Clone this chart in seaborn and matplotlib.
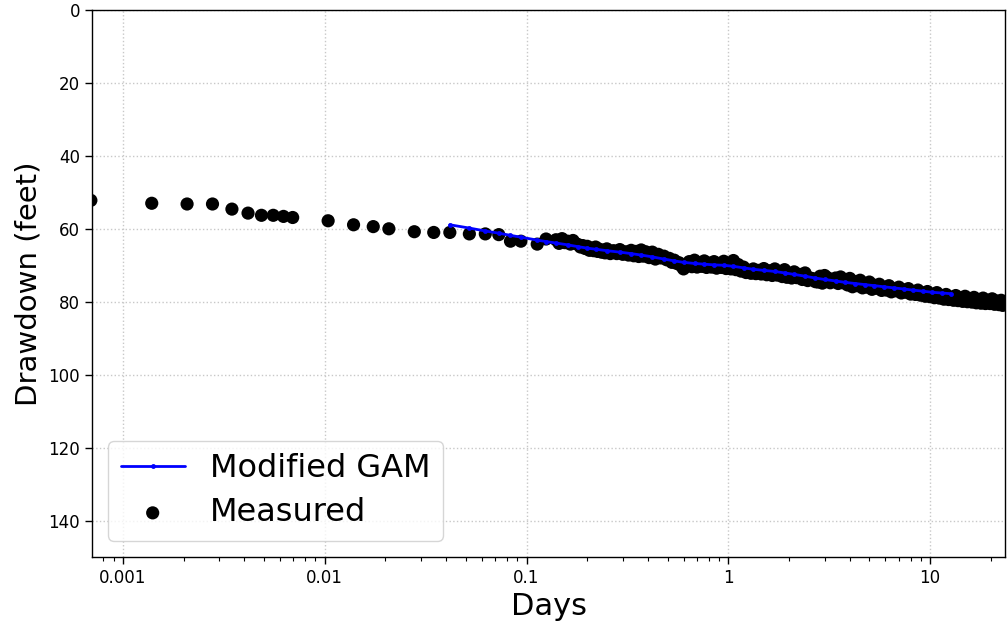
import matplotlib
matplotlib.use("Agg")
import matplotlib.pyplot as plt
import seaborn as sns
import pandas as pd
from matplotlib.ticker import FuncFormatter, LogLocator, NullFormatter

# ---- Data ----
measured_days = [
    0.000694, 0.00139, 0.00208, 0.00278, 0.00347, 0.00417, 0.00486, 0.00556, 0.00625, 0.00694,
    0.0104, 0.0139, 0.0174, 0.0208, 0.0278, 0.0347, 0.0417, 0.0521, 0.0625, 0.0729,
    0.0833, 0.0938, 0.113, 0.125,
    0.14, 0.15, 0.16, 0.17, 0.18, 0.19, 0.20, 0.21, 0.22, 0.23, 0.24, 0.25, 0.27, 0.29,
    0.31, 0.33, 0.35, 0.37, 0.39, 0.42, 0.45, 0.48, 0.51, 0.54, 0.57, 0.60, 0.64, 0.68,
    0.72, 0.76, 0.80, 0.85, 0.90, 0.95, 1.0, 1.06, 1.12, 1.19, 1.26, 1.33, 1.41, 1.5,
    1.6, 1.7, 1.8, 1.9, 2.0, 2.12, 2.25, 2.4, 2.55, 2.7, 2.85, 3.0, 3.2, 3.4, 3.6, 3.8,
    4.0, 4.25, 4.5, 4.75, 5.0, 5.3, 5.6, 5.9, 6.25, 6.6, 7.0, 7.4, 7.8, 8.2, 8.7, 9.2,
    9.7, 10.2, 10.8, 11.4, 12.0, 12.7, 13.4, 14.1, 14.9, 15.7, 16.5, 17.4, 18.3, 19.3,
    20.3, 21.4, 22.5, 23.2,
    0.145, 0.155, 0.165, 0.175, 0.185, 0.195, 0.205, 0.215, 0.225, 0.235, 0.245, 0.26,
    0.28, 0.30, 0.32, 0.34, 0.36, 0.38, 0.405, 0.435, 0.465, 0.495, 0.525, 0.555, 0.585,
    0.62, 0.66, 0.70, 0.74, 0.78, 0.825, 0.875, 0.925, 0.975, 1.03, 1.09, 1.155, 1.225,
    1.295, 1.37, 1.455, 1.55, 1.65, 1.75, 1.85, 1.95, 2.06, 2.185, 2.325, 2.475, 2.625,
    2.775, 2.925, 3.1, 3.3, 3.5, 3.7, 3.9, 4.125, 4.375, 4.625, 4.875, 5.15, 5.45, 5.75,
    6.075, 6.425, 6.8, 7.2, 7.6, 8.0, 8.45, 8.95, 9.45, 9.95, 10.5, 11.1, 11.7, 12.35,
    13.05, 13.75, 14.5, 15.3, 16.1, 16.95, 17.85, 18.8, 19.8, 20.85, 21.95, 22.9,
]
measured_drawdown = [
    52.2, 53.0, 53.2, 53.2, 54.6, 55.7, 56.3, 56.3, 56.6, 56.9,
    57.8, 58.9, 59.4, 60.0, 60.8, 61.0, 61.0, 61.4, 61.4, 61.6,
    63.4, 63.4, 64.2, 62.8,
    63.0, 62.7, 63.4, 63.2, 64.3, 64.6, 64.8, 65.3, 65.0, 65.6, 65.9, 65.5, 66.0, 65.7,
    66.3, 65.9, 66.2, 65.8, 66.3, 66.4, 67.0, 67.5, 68.1, 68.6, 69.3, 71.0, 69.0, 68.6,
    69.3, 68.8, 69.4, 69.0, 69.5, 68.9, 69.6, 68.7, 69.8, 70.5, 71.5, 71.0, 71.4, 70.9,
    71.5, 71.0, 71.8, 71.2, 72.3, 71.8, 72.5, 72.1, 73.5, 74.5, 73.0, 72.8, 74.8, 73.5,
    73.2, 73.9, 73.6, 74.5, 74.1, 75.0, 74.6, 75.5, 75.2, 76.2, 75.6, 76.5, 76.0, 76.8,
    76.4, 77.2, 76.8, 77.6, 77.2, 78.1, 77.5, 78.5, 78.0, 78.8, 78.3, 79.0, 78.5, 79.2,
    78.8, 79.4, 79.0, 79.6, 79.2, 79.8, 79.6, 80.3,
    64.0, 63.8, 64.2, 64.0, 65.0, 65.4, 65.9, 66.0, 66.2, 66.4, 66.6, 66.8,
    66.8, 67.0, 67.2, 67.4, 67.6, 67.5, 67.9, 68.3, 68.0, 68.5, 69.2, 69.5, 70.2,
    70.3, 70.4, 70.5, 70.3, 70.6, 70.5, 70.8, 70.6, 70.9, 71.0, 71.2, 71.6, 72.0,
    72.2, 72.3, 72.4, 72.6, 72.8, 72.7, 73.1, 73.3, 73.5, 73.4, 73.9, 74.2, 73.7,
    74.6, 74.9, 73.4, 74.1, 75.0, 74.8, 75.4, 75.9, 75.6, 76.2, 76.0, 76.6, 76.3, 76.9,
    76.8, 77.3, 77.0, 77.6, 77.4, 77.9, 78.0, 78.2, 78.5, 78.6, 78.9, 79.0, 79.3, 79.4,
    79.6, 79.7, 79.9, 80.0, 80.1, 80.3, 80.4, 80.5, 80.5, 80.7, 80.8, 81.0,
]

gam_days = [
    0.0417, 0.0521, 0.0625, 0.0729, 0.0833, 0.0938, 0.113, 0.125, 0.14, 0.16, 0.18, 0.20,
    0.22, 0.25, 0.29, 0.33, 0.37, 0.42, 0.48, 0.54, 0.60, 0.68, 0.76, 0.85, 0.95, 1.06,
    1.19, 1.33, 1.5, 1.7, 1.9, 2.12, 2.4, 2.7, 3.0, 3.4, 3.8, 4.25, 4.75, 5.3, 5.9, 6.6,
    7.4, 8.2, 9.2, 10.2, 11.4, 12.7,
]
gam_drawdown = [
    58.9, 59.8, 60.6, 61.2, 61.8, 62.3, 63.1, 63.5, 63.9, 64.4, 64.9, 65.3,
    65.6, 66.0, 66.4, 66.8, 67.2, 67.7, 68.3, 68.8, 69.2, 69.5, 69.7, 69.9, 70.0, 70.3,
    70.7, 71.1, 71.4, 71.7, 72.1, 72.5, 73.0, 73.5, 73.9, 74.3, 74.7, 75.0, 75.3, 75.6,
    75.9, 76.2, 76.5, 76.8, 77.1, 77.4, 77.6, 77.8,
]

y_ticks = [0, 20, 40, 60, 80, 100, 120, 140]
x_ticks = [0.001, 0.01, 0.1, 1, 10]

meas_df = pd.DataFrame({"Days": measured_days, "Drawdown": measured_drawdown})
gam_df = pd.DataFrame({"Days": gam_days, "Drawdown": gam_drawdown})

sns.set_theme(style="white")
plt.rcParams["font.family"] = ["DejaVu Sans"]
plt.rcParams["text.color"] = "black"
plt.rcParams["axes.labelcolor"] = "black"
plt.rcParams["xtick.color"] = "black"
plt.rcParams["ytick.color"] = "black"

fig = plt.figure(figsize=(10.08, 6.28), dpi=100)
ax = fig.add_axes([92 / 1008, 1 - 557 / 628, (1005 - 92) / 1008, (557 - 10) / 628])

sns.lineplot(data=gam_df, x="Days", y="Drawdown", ax=ax, color="#0000ff",
             marker=".", markersize=7, markeredgewidth=0, linewidth=2.0,
             label="Modified GAM", zorder=3, sort=False)
sns.scatterplot(data=meas_df, x="Days", y="Drawdown", ax=ax, color="black",
                s=90, edgecolor="none", label="Measured", zorder=2)

ax.set_xscale("log")
ax.set_xlim(0.000703, 23.5)
ax.set_ylim(150, 0)
ax.set_yticks(y_ticks)
ax.set_xticks(x_ticks)
ax.xaxis.set_major_formatter(FuncFormatter(lambda v, p: "{:g}".format(v)))
ax.xaxis.set_minor_locator(LogLocator(base=10, subs=range(2, 10), numticks=20))
ax.xaxis.set_minor_formatter(NullFormatter())

ax.grid(True, which="major", linestyle=":", color="#c8c8c8", linewidth=1.0)
for sp in ax.spines.values():
    sp.set_color("black")
    sp.set_linewidth(1.0)
ax.tick_params(axis="both", which="major", direction="out", length=5, width=1,
               labelsize=12, colors="black", bottom=True, left=True)
ax.tick_params(axis="x", which="minor", direction="out", length=3, width=0.8,
               color="black", bottom=True)

ax.set_xlabel("Days", fontsize=22, color="black")
ax.set_ylabel("Drawdown (feet)", fontsize=21, color="black")

leg = ax.legend(loc="lower left", fontsize=23, frameon=True, framealpha=0.8,
                edgecolor="#cccccc", fancybox=True, borderaxespad=0.5,
                labelspacing=0.4)
for t in leg.get_texts():
    t.set_color("black")

fig.savefig("out.png", dpi=100)
